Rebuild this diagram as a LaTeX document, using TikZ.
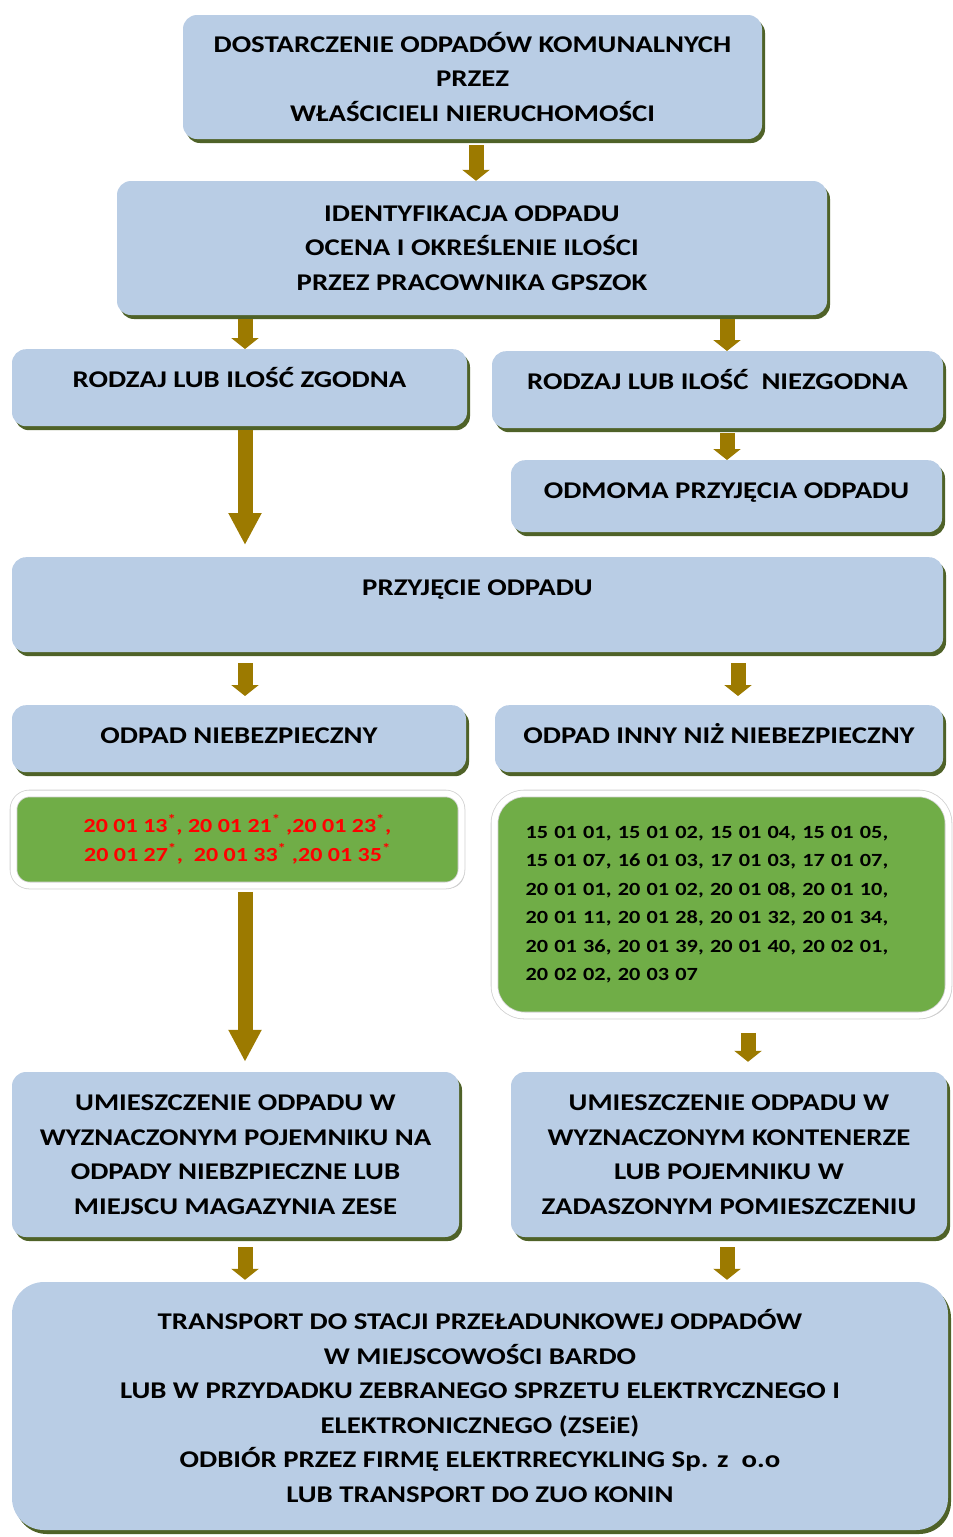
\documentclass[tikz,border=0pt]{standalone}
\usepackage{fontspec}
\setmainfont{Carlito}[FakeStretch=1.2]
\usetikzlibrary{positioning, calc, arrows.meta, shadows}

\definecolor{boxblue}{RGB}{185,205,229}
\definecolor{edgegreen}{RGB}{79,98,40}
\definecolor{arrowgold}{RGB}{156,122,0}
\definecolor{codegreen}{RGB}{112,173,71}

\tikzset{
  stepbox/.style={rectangle, rounded corners=14pt, fill=boxblue, align=center,
    font=\fontsize{24}{34.5}\selectfont\bfseries, inner sep=0pt,
    drop shadow={shadow xshift=3pt, shadow yshift=-4pt, fill=edgegreen, opacity=1}},
  onebox/.style={stepbox, anchor=north, text height=38pt, text depth=#1},
  codebox/.style={rectangle, rounded corners=16pt, fill=codegreen, draw=black!18, double=white,
    double distance=6pt, line width=0.8pt, inner sep=0pt, font=\fontsize{18.6}{28.5}\selectfont\bfseries,
    drop shadow={shadow xshift=3pt, shadow yshift=-3pt, fill=black!22, opacity=1}},
  flow/.style={draw=arrowgold, line width=15pt, -{Triangle[width=27pt,length=11pt]}},
  longflow/.style={draw=arrowgold, line width=15pt, -{Triangle[width=31pt,length=32pt]}}
}

\begin{document}
\begin{tikzpicture}[x=1pt, y=-1pt]
\useasboundingbox (0,0) rectangle (953,1537);

% boxes
\node[stepbox, minimum width=579pt, minimum height=124pt] (deliv) at (472.5,77)
  {DOSTARCZENIE ODPADÓW KOMUNALNYCH\\PRZEZ\\WŁAŚCICIELI NIERUCHOMOŚCI};
\node[stepbox, minimum width=710pt, minimum height=134pt] (ident) at (472,248)
  {IDENTYFIKACJA ODPADU\\OCENA I OKREŚLENIE ILOŚCI\\PRZEZ PRACOWNIKA GPSZOK};
\node[onebox=39pt, minimum width=455pt] (zgod) at (239.5,349) {RODZAJ LUB ILOŚĆ ZGODNA};
\node[onebox=39pt, minimum width=451pt] (niez) at (717.5,351) {RODZAJ LUB ILOŚĆ~~NIEZGODNA};
\node[onebox=34pt, minimum width=431pt] (odm) at (726.5,460) {ODMOMA PRZYJĘCIA ODPADU};
\node[onebox=57pt, minimum width=931pt] (przyj) at (477.5,557) {PRZYJĘCIE ODPADU};
\node[onebox=29pt, minimum width=454pt] (niebez) at (239,705) {ODPAD NIEBEZPIECZNY};
\node[onebox=29pt, minimum width=448pt] (inny) at (719,705) {ODPAD INNY NIŻ NIEBEZPIECZNY};

\node[codebox, minimum width=448pt, minimum height=92pt, align=center, text=red,
  font=\fontsize{20}{29}\selectfont\bfseries] (hazard) at (237.5,839.5)
  {20 01 13\textsuperscript{*}, 20 01 21\textsuperscript{*} ,20 01 23\textsuperscript{*},\\
   20 01 27\textsuperscript{*},~~20 01 33\textsuperscript{*} ,20 01 35\textsuperscript{*}};
\node[codebox, rounded corners=30pt, minimum width=454pt, minimum height=222pt, align=left,
  text width=392pt] (other) at (721.5,904.5)
  {15 01 01, 15 01 02, 15 01 04, 15 01 05,\\
   15 01 07, 16 01 03, 17 01 03, 17 01 07,\\
   20 01 01, 20 01 02, 20 01 08, 20 01 10,\\
   20 01 11, 20 01 28, 20 01 32, 20 01 34,\\
   20 01 36, 20 01 39, 20 01 40, 20 02 01,\\
   20 02 02, 20 03 07};

\node[stepbox, minimum width=447pt, minimum height=165pt] (storel) at (235.5,1154.5)
  {UMIESZCZENIE ODPADU W\\WYZNACZONYM POJEMNIKU NA\\ODPADY NIEBZPIECZNE LUB\\MIEJSCU MAGAZYNIA ZESE};
\node[stepbox, minimum width=436pt, minimum height=165pt] (storer) at (729,1154.5)
  {UMIESZCZENIE ODPADU W\\WYZNACZONYM KONTENERZE\\LUB POJEMNIKU W\\ZADASZONYM POMIESZCZENIU};
\node[stepbox, rounded corners=32pt, minimum width=936pt, minimum height=248pt] (trans) at (480,1406)
  {TRANSPORT DO STACJI PRZEŁADUNKOWEJ ODPADÓW\\W MIEJSCOWOŚCI BARDO\\
   LUB W PRZYDADKU ZEBRANEGO SPRZETU ELEKTRYCZNEGO I\\ELEKTRONICZNEGO (ZSEiE)\\
   ODBIÓR PRZEZ FIRMĘ ELEKTRRECYKLING Sp. z~~o.o\\LUB TRANSPORT DO ZUO KONIN};

% arrows
\draw[flow] ([yshift=-6pt]deliv.south -| 476,0) -- (ident.north -| 476,0);
\draw[flow] ([yshift=-4pt]ident.south -| 245,0) -- (zgod.north -| 245,0);
\draw[flow] ([yshift=-4pt]ident.south -| 727,0) -- (niez.north -| 727,0);
\draw[flow] ([yshift=-5pt]niez.south -| 727,0) -- (odm.north -| 727,0);
\draw[longflow] ([yshift=-4pt]zgod.south -| 245,0) -- ([yshift=12pt]przyj.north -| 245,0);
\draw[flow] ([yshift=-11pt]przyj.south -| 245,0) -- ([yshift=9pt]niebez.north -| 245,0);
\draw[flow] ([yshift=-11pt]przyj.south -| 738,0) -- ([yshift=9pt]inny.north -| 738,0);
\draw[longflow] ([yshift=-6pt]hazard.south -| 245,0) -- ([yshift=10pt]storel.north -| 245,0);
\draw[flow] ([yshift=-17pt]other.south -| 748,0) -- ([yshift=10pt]storer.north -| 748,0);
\draw[flow] ([yshift=-10pt]storel.south -| 245,0) -- ([yshift=2pt]trans.north -| 245,0);
\draw[flow] ([yshift=-10pt]storer.south -| 727,0) -- ([yshift=2pt]trans.north -| 727,0);
\end{tikzpicture}
\end{document}
